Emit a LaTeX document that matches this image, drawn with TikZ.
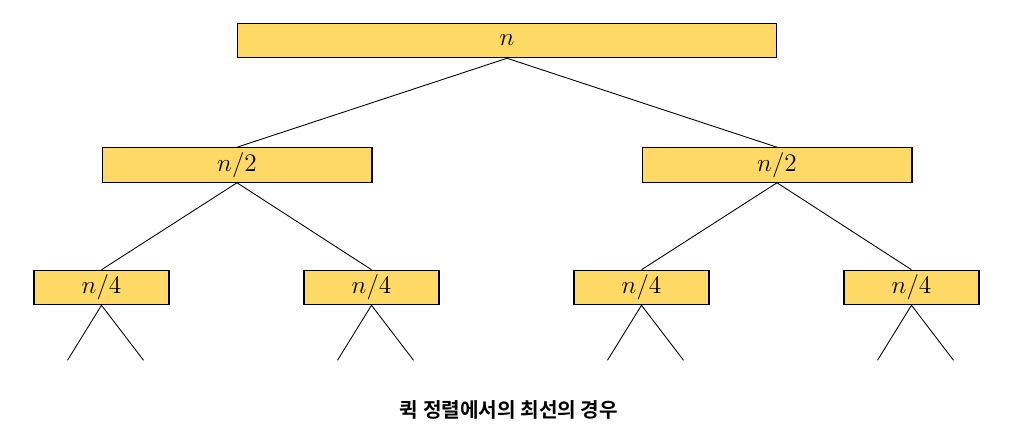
\documentclass[tikz,border=0pt]{standalone}
\usepackage{fontspec}
\usepackage{tikz}
\usepackage{xcolor}
\usetikzlibrary{calc}
\newfontfamily\cjk{Noto Sans CJK KR}[BoldFont={Noto Sans CJK KR Bold}]
\definecolor{box_fill}{RGB}{255,217,102}
\tikzset{
    part/.style={draw=black,fill=box_fill,line width=0.6pt,inner sep=0pt,minimum height=0.69cm,font=\fontsize{15}{17}\selectfont},
    part_l1/.style={part,minimum width=10.8cm},
    part_l2/.style={part,minimum width=5.4cm},
    part_l3/.style={part,minimum width=2.7cm},
    split/.style={line width=0.5pt},
}

\begin{document}
\begin{tikzpicture}[x=0.02cm,y=-0.02cm]
  \useasboundingbox (0,0) rectangle (1019,431);
  \node[part_l1] (N) at (507,40.5) {$n$};
  \node[part_l2] (L) at (237,165) {$n/2$};
  \node[part_l2] (R) at (777,165) {$n/2$};
  \node[part_l3] (LL) at (101.5,287.5) {$n/4$};
  \node[part_l3] (LR) at (371.5,287.5) {$n/4$};
  \node[part_l3] (RL) at (641.5,287.5) {$n/4$};
  \node[part_l3] (RR) at (911.5,287.5) {$n/4$};
  \draw[split] (N.south) -- (L.north);
  \draw[split] (N.south) -- (R.north);
  \draw[split] (L.south) -- (LL.north);
  \draw[split] (L.south) -- (LR.north);
  \draw[split] (R.south) -- (RL.north);
  \draw[split] (R.south) -- (RR.north);
  \foreach \k in {LL,LR,RL,RR} {
    \coordinate (\k a) at ($(\k.south)+(-34,55)$);
    \coordinate (\k b) at ($(\k.south)+(42,55)$);
    \draw[split] (\k a) -- (\k.south) -- (\k b);
  }
  \node[font=\cjk\bfseries\fontsize{11.5}{14}\selectfont] (cap) at (509,410) {퀵 정렬에서의 최선의 경우};
\end{tikzpicture}
\end{document}
